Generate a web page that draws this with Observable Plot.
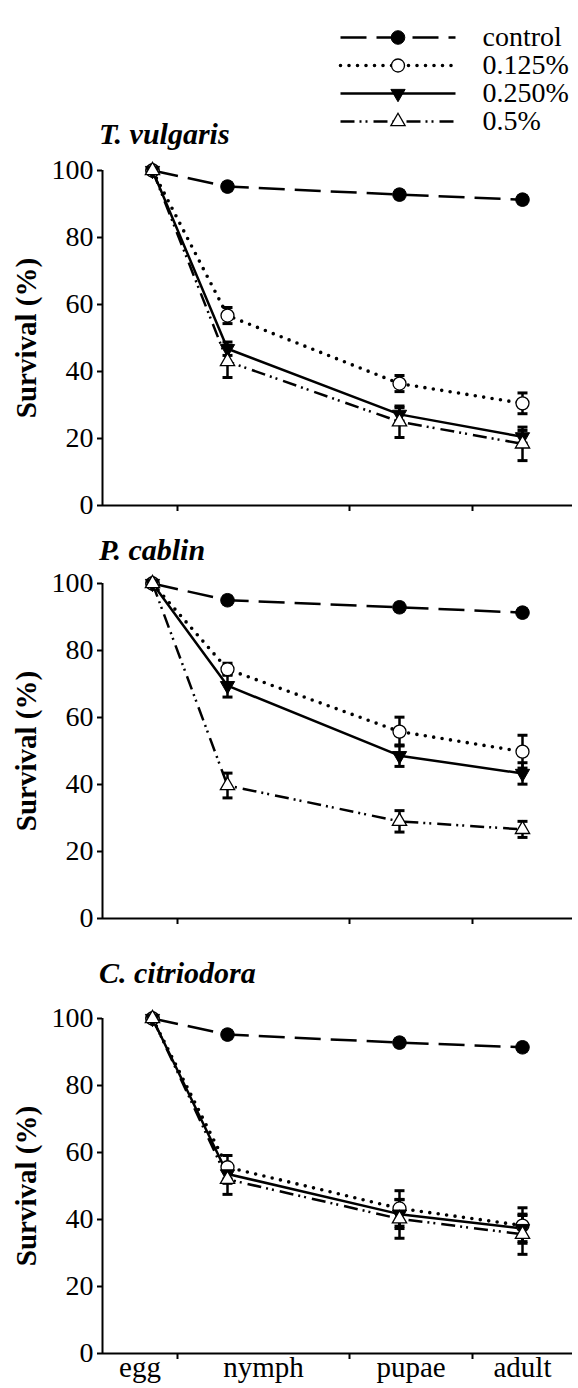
<!DOCTYPE html>
<html><head><meta charset="utf-8">
<script src="https://cdn.jsdelivr.net/npm/d3@7"></script>
<script src="https://cdn.jsdelivr.net/npm/@observablehq/plot@0.6"></script>
<style>
body{margin:0;background:#fff}
#wrap{position:relative;width:578px;height:1388px;overflow:hidden;background:#fff;font-family:'Liberation Serif','Times New Roman','Tinos','Nimbus Roman','FreeSerif','Noto Serif','DejaVu Serif',serif}
#wrap > div.p{position:absolute;left:0}
.title{position:absolute;left:99px;font-weight:bold;font-style:italic;font-size:30px;line-height:30px;white-space:nowrap;color:#000}
svg{overflow:visible}
</style></head><body><div id="wrap"></div>
<script>
// ---------- data ----------
const stages = ["egg", "nymph", "pupae", "adult"];
const treatments = ["control", "0.125%", "0.250%", "0.5%"];
const species = ["T. vulgaris", "P. cablin", "C. citriodora"];
const yTicks = [0, 20, 40, 60, 80, 100];

// mean survival (%) per treatment (rows) across stages (columns)
const tVulgarisMean = [
  [100, 95.2, 92.8, 91.3],
  [100, 56.7, 36.4, 30.5],
  [100, 46.8, 27.2, 20.5],
  [100, 43.0, 25.0, 18.4]
];
const tVulgarisSE = [
  [0, 1.2, 1.2, 1.2],
  [0, 2.4, 2.4, 3.1],
  [0, 2.0, 2.0, 1.9],
  [0, 4.8, 4.7, 5.0]
];
const pCablinMean = [
  [100, 95.0, 92.9, 91.3],
  [100, 74.4, 55.8, 49.8],
  [100, 69.5, 48.6, 43.3],
  [100, 39.7, 29.0, 26.6]
];
const pCablinSE = [
  [0, 1.2, 1.2, 1.2],
  [0, 1.8, 4.3, 4.9],
  [0, 3.4, 3.2, 3.2],
  [0, 3.7, 3.2, 2.4]
];
const cCitriodoraMean = [
  [100, 95.2, 92.8, 91.4],
  [100, 55.6, 43.3, 38.2],
  [100, 53.6, 41.6, 37.3],
  [100, 52.0, 40.2, 35.6]
];
const cCitriodoraSE = [
  [0, 1.2, 1.2, 1.2],
  [0, 3.5, 5.3, 5.3],
  [0, 2.8, 4.3, 3.9],
  [0, 4.5, 5.8, 6.0]
];

// ---------- table ----------
const means = [tVulgarisMean, pCablinMean, cCitriodoraMean];
const ses = [tVulgarisSE, pCablinSE, cCitriodoraSE];
const rows = [];
species.forEach((sp, s) => treatments.forEach((tr, t) => stages.forEach((st, i) =>
  rows.push({species: sp, treatment: tr, t, stage: st, i, mean: means[s][t][i], se: ses[s][t][i]}))));

// ---------- styles ----------
const triDown = {draw(ctx, size) {
  const y = -Math.sqrt(size / (Math.sqrt(3) * 3));
  ctx.moveTo(0, -2 * y); ctx.lineTo(-Math.sqrt(3) * y, y); ctx.lineTo(Math.sqrt(3) * y, y); ctx.closePath();
}};
const capSym = {draw(ctx, size) { const w = Math.sqrt(size); ctx.moveTo(-w / 2, 0); ctx.lineTo(w / 2, 0); }};
const lineStyles = [
  {strokeDasharray: "26 10", strokeLinecap: "butt", strokeWidth: 2.5},
  {strokeDasharray: "0 8.5", strokeLinecap: "round", strokeWidth: 3.6},
  {strokeLinecap: "butt", strokeWidth: 2.5},
  {strokeDasharray: "14 5 2 4 2 6", strokeLinecap: "butt", strokeWidth: 2.5}
];
const markerStyles = [
  {symbol: "circle", r: 6.8, fill: "black", stroke: "black", strokeWidth: 1},
  {symbol: "circle", r: 6.5, fill: "white", stroke: "black", strokeWidth: 1.3},
  {symbol: triDown, r: 5.3, fill: "black", stroke: "black", strokeWidth: 1},
  {symbol: "triangle", r: 5.3, fill: "white", stroke: "black", strokeWidth: 1.3}
];
const OFF = 50; // point offset inside each stage band
const FONT = "'Liberation Serif','Times New Roman','Tinos','Nimbus Roman','FreeSerif','Noto Serif','DejaVu Serif',serif";

function panel(s, last) {
  const d = rows.filter(r => r.species === species[s]);
  const eb = d.filter(r => r.se > 0);
  const marks = [
    Plot.ruleX([0], {strokeWidth: 2}),
    Plot.ruleY([0], {strokeWidth: 2}),
    Plot.axisY({ticks: yTicks, tickSize: 5, tickPadding: 4, strokeWidth: 2, label: null, fontSize: 28}),
    Plot.axisX({ticks: [1, 2, 3], tickSize: 6, strokeWidth: 2, tickFormat: () => "", label: null}),
    Plot.text(["Survival (%)"], {frameAnchor: "left", textAnchor: "middle", lineAnchor: "middle", dx: -76, rotate: -90, fontWeight: "bold", fontSize: 29})
  ];
  if (last) marks.push(Plot.axisX({ticks: stages.map((_, i) => i + 0.5), tickSize: 0, tickPadding: 3,
    tickFormat: v => stages[Math.floor(v)], label: null, fontSize: 29}));
  treatments.forEach((tr, t) => marks.push(Plot.line(d.filter(r => r.t === t),
    {x: "i", y: "mean", dx: OFF, stroke: "black", ...lineStyles[t]})));
  marks.push(Plot.ruleX(eb, {x: "i", y1: r => r.mean - r.se, y2: r => r.mean + r.se, dx: OFF, stroke: "black", strokeWidth: 2.5}));
  marks.push(Plot.dot(eb, {x: "i", y: r => r.mean + r.se, dx: OFF, symbol: capSym, r: 5.64, stroke: "black", strokeWidth: 3, fill: "none"}));
  marks.push(Plot.dot(eb, {x: "i", y: r => r.mean - r.se, dx: OFF, symbol: capSym, r: 5.64, stroke: "black", strokeWidth: 3, fill: "none"}));
  treatments.forEach((tr, t) => marks.push(Plot.dot(d.filter(r => r.t === t),
    {x: "i", y: "mean", dx: OFF, ...markerStyles[t]})));
  return Plot.plot({
    width: 578, height: 385, marginTop: 10, marginBottom: 40, marginLeft: 102, marginRight: 6,
    x: {type: "linear", domain: [0, 1, 2, 3, 4], range: [102, 177, 349, 472, 572]},
    y: {domain: [0, 100]},
    style: {fontFamily: FONT, fontSize: "28px", color: "black", background: "transparent", overflow: "visible"},
    marks
  });
}

const legend = Plot.plot({
  width: 578, height: 160, margin: 0,
  x: {domain: [0, 1], range: [340, 455], axis: null},
  y: {type: "point", domain: treatments, range: [23, 135], axis: null},
  style: {fontFamily: FONT, fontSize: "28px", color: "black", background: "transparent", overflow: "visible"},
  marks: [
    ...treatments.map((tr, t) => Plot.line([{x: 0, tr}, {x: 1, tr}], {x: "x", y: "tr", stroke: "black", ...lineStyles[t]})),
    ...treatments.map((tr, t) => Plot.dot([tr], {x: () => 0.5, y: v => v, ...markerStyles[t]})),
    Plot.text(treatments, {x: () => 1, y: v => v, dx: 27, textAnchor: "start", fontSize: 28})
  ]
});

const wrap = document.getElementById("wrap");
function place(node, top) { const div = document.createElement("div"); div.className = "p"; div.style.top = top + "px"; div.appendChild(node); wrap.appendChild(div); }
place(legend, 0);
const tops = [160, 573.3, 1008.3];
const titleTops = [119, 535, 958];
species.forEach((sp, s) => {
  place(panel(s, s === species.length - 1), tops[s]);
  const t = document.createElement("div"); t.className = "title"; t.style.top = titleTops[s] + "px"; t.textContent = sp; wrap.appendChild(t);
});
</script></body></html>
